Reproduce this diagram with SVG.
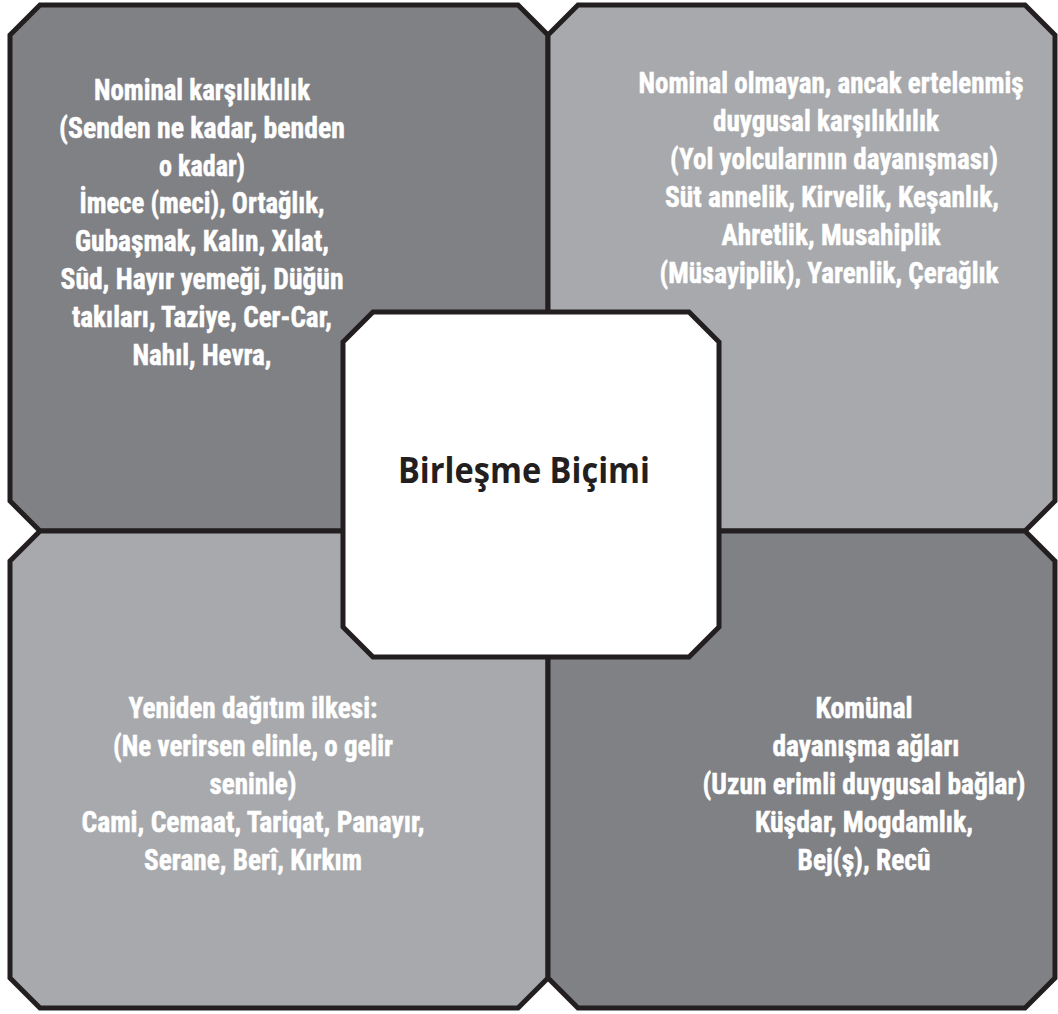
<svg xmlns="http://www.w3.org/2000/svg" width="1058" height="1014" viewBox="0 0 1058 1014">
<style>
.q{stroke:#231f20;stroke-width:5;stroke-linejoin:miter}
.dark{fill:#808185}
.light{fill:#a7a9ac}
.t{font-family:"Roboto Condensed","Liberation Sans Narrow","Noto Sans","DejaVu Sans Condensed",sans-serif;font-stretch:condensed;font-weight:bold;font-size:29px;fill:#ffffff;stroke:#ffffff;stroke-width:0.5;text-anchor:middle}
.title{font-family:"Open Sans","Liberation Sans",sans-serif;font-weight:bold;font-size:36px;fill:#231f20;text-anchor:middle}
</style>
<rect width="1058" height="1014" fill="#ffffff"/>
<g id="node-tl">
<polygon class="q dark" points="40,5 518,5 548,35 548,531 40,531 10,501 10,35"/>
<text class="t" x="202" y="100" textLength="216" lengthAdjust="spacingAndGlyphs">Nominal karşılıklılık</text>
<text class="t" x="202" y="138" textLength="286" lengthAdjust="spacingAndGlyphs">(Senden ne kadar, benden</text>
<text class="t" x="202" y="176" textLength="86" lengthAdjust="spacingAndGlyphs">o kadar)</text>
<text class="t" x="202" y="213" textLength="245" lengthAdjust="spacingAndGlyphs">İmece (meci), Ortağlık,</text>
<text class="t" x="202" y="251" textLength="254" lengthAdjust="spacingAndGlyphs">Gubaşmak, Kalın, Xılat,</text>
<text class="t" x="202" y="289" textLength="283" lengthAdjust="spacingAndGlyphs">Sûd, Hayır yemeği, Düğün</text>
<text class="t" x="202" y="327" textLength="260" lengthAdjust="spacingAndGlyphs">takıları, Taziye, Cer-Car,</text>
<text class="t" x="202" y="365" textLength="139" lengthAdjust="spacingAndGlyphs">Nahıl, Hevra,</text>
</g>
<g id="node-tr">
<polygon class="q light" points="578,5 1025,5 1055,35 1055,501 1025,531 548,531 548,35"/>
<text class="t" x="831" y="93" textLength="385" lengthAdjust="spacingAndGlyphs">Nominal olmayan, ancak ertelenmiş</text>
<text class="t" x="826" y="131" textLength="226" lengthAdjust="spacingAndGlyphs">duygusal karşılıklılık</text>
<text class="t" x="834" y="169" textLength="328" lengthAdjust="spacingAndGlyphs">(Yol yolcularının dayanışması)</text>
<text class="t" x="832" y="207" textLength="334" lengthAdjust="spacingAndGlyphs">Süt annelik, Kirvelik, Keşanlık,</text>
<text class="t" x="831" y="245" textLength="219" lengthAdjust="spacingAndGlyphs">Ahretlik, Musahiplik</text>
<text class="t" x="829" y="283" textLength="339" lengthAdjust="spacingAndGlyphs">(Müsayiplik), Yarenlik, Çerağlık</text>
</g>
<g id="node-bl">
<polygon class="q light" points="40,531 548,531 548,978 518,1008 40,1008 10,978 10,561"/>
<text class="t" x="253" y="718" textLength="249" lengthAdjust="spacingAndGlyphs">Yeniden dağıtım ilkesi:</text>
<text class="t" x="253" y="756" textLength="280" lengthAdjust="spacingAndGlyphs">(Ne verirsen elinle, o gelir</text>
<text class="t" x="253" y="794" textLength="87" lengthAdjust="spacingAndGlyphs">seninle)</text>
<text class="t" x="253" y="832" textLength="343" lengthAdjust="spacingAndGlyphs">Cami, Cemaat, Tariqat, Panayır,</text>
<text class="t" x="253" y="870" textLength="218" lengthAdjust="spacingAndGlyphs">Serane, Berî, Kırkım</text>
</g>
<g id="node-br">
<polygon class="q dark" points="548,531 1025,531 1055,561 1055,978 1025,1008 578,1008 548,978"/>
<text class="t" x="864" y="718" textLength="97" lengthAdjust="spacingAndGlyphs">Komünal</text>
<text class="t" x="866" y="756" textLength="187" lengthAdjust="spacingAndGlyphs">dayanışma ağları</text>
<text class="t" x="864" y="794" textLength="323" lengthAdjust="spacingAndGlyphs">(Uzun erimli duygusal bağlar)</text>
<text class="t" x="864" y="832" textLength="218" lengthAdjust="spacingAndGlyphs">Küşdar, Mogdamlık,</text>
<text class="t" x="864" y="870" textLength="133" lengthAdjust="spacingAndGlyphs">Bej(ş), Recû</text>
</g>
<g id="node-center">
<polygon class="q" fill="#ffffff" points="373,312 689,312 719,342 719,627 689,657 373,657 343,627 343,342"/>
<text class="title" x="524" y="483" textLength="252" lengthAdjust="spacingAndGlyphs">Birleşme Biçimi</text>
</g>
<g id="connectors"/>
</svg>
